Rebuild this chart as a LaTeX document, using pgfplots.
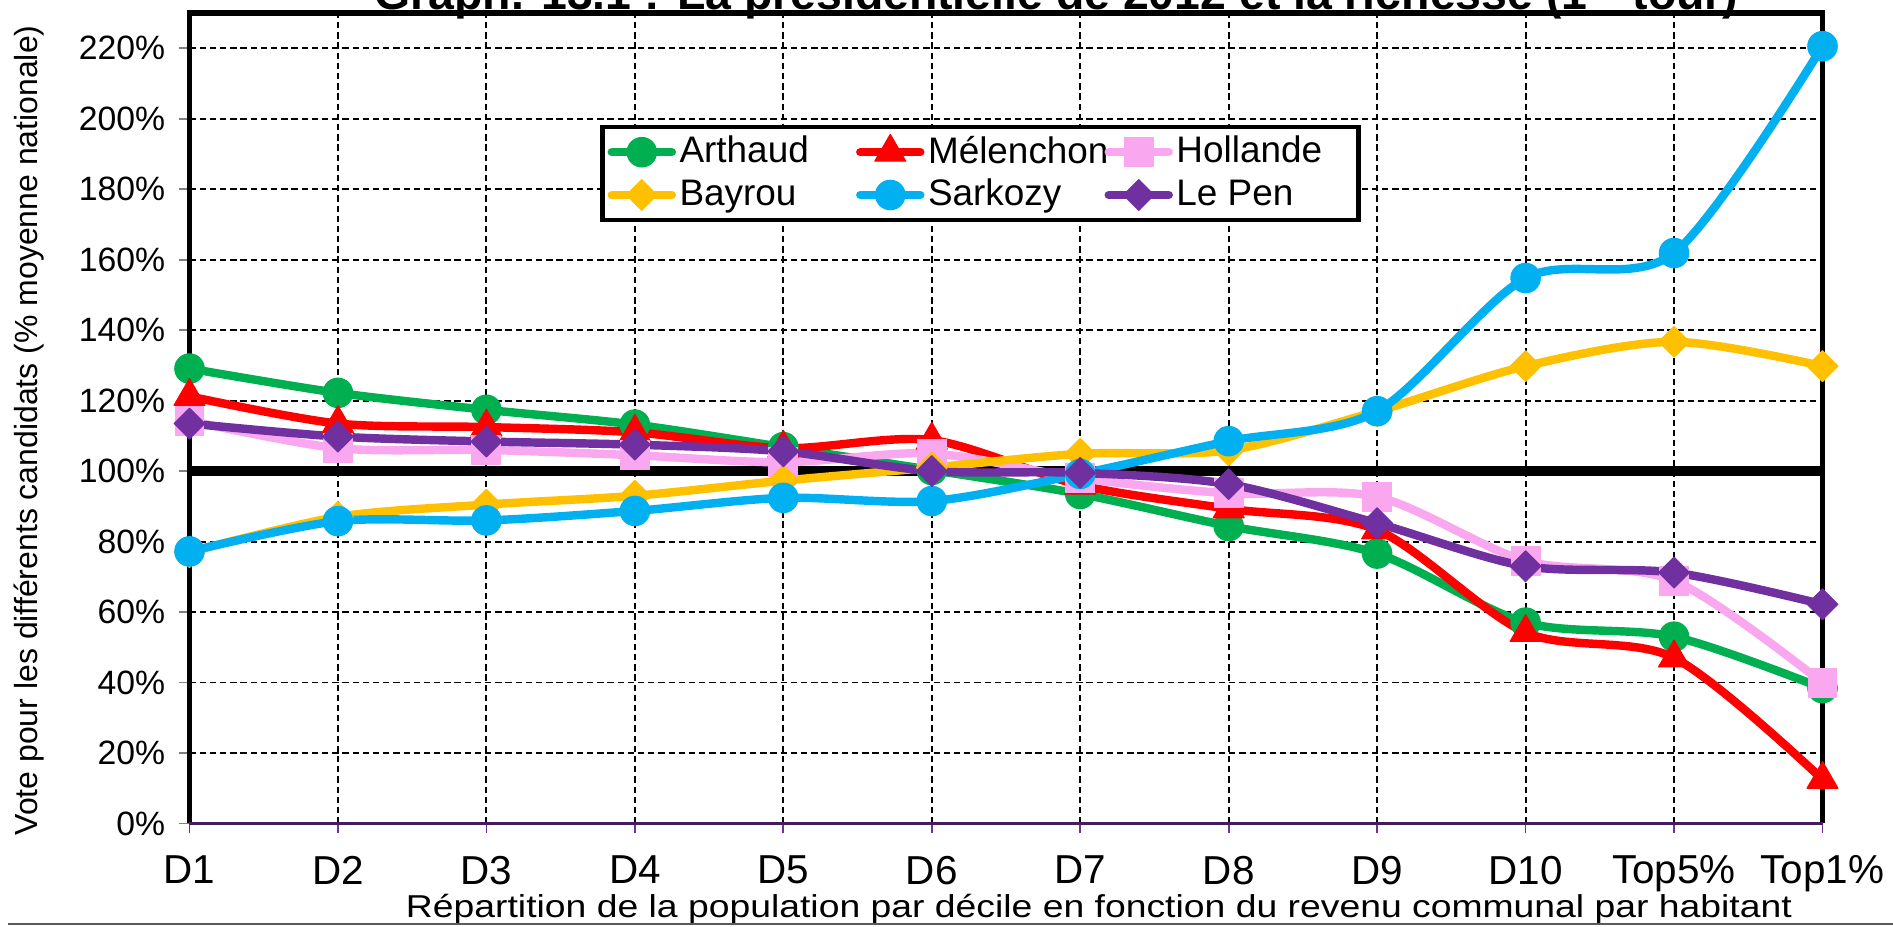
\documentclass[border=0pt]{standalone}
\usepackage{pgfplots}
\usepackage{pgfplotstable}
\pgfplotsset{compat=1.18}
\usepackage{fontspec}
\setmainfont{Liberation Sans}

\definecolor{cArthaud}{HTML}{00B050}
\definecolor{cMelenchon}{HTML}{FF0000}
\definecolor{cHollande}{HTML}{F9A7EE}
\definecolor{cBayrou}{HTML}{FFC000}
\definecolor{cSarkozy}{HTML}{00B0F0}
\definecolor{cLePen}{HTML}{7030A0}

% vote as % of national average, by income decile
\pgfplotstableread{
x  arthaud melenchon hollande bayrou sarkozy lepen
0  129.1   121.2     114.3    77.0   77.2    113.5
1  122.2   113.5     106.5    87.0   85.8    109.8
2  117.4   112.5     106.0    90.5   86.0    108.4
3  113.2   111.0     104.5    93.0   88.7    107.5
4  106.8   106.5     102.5    97.3   92.4    105.6
5  100.3   108.8     105.0    101.0  91.5    100.0
6  93.5    96.0      98.0     104.9  99.2    99.5
7  84.4    89.3      93.7     105.9  108.5   96.3
8  76.6    83.3      92.7     117.0  117.0   85.2
9  57.0    54.2      74.5     129.8  154.8   73.0
10 53.0    47.0      68.9     136.7  161.9   71.2
11 38.4    12.5      39.9     129.8  220.6   62.2
}\votes

\begin{document}
\begin{tikzpicture}
\useasboundingbox (-1.895,-1.026) rectangle (17.035,8.234);

\begin{axis}[
    at={(0,0)}, anchor=south west,
    scale only axis,
    width=16.33cm, height=8.103cm,
    xmin=0, xmax=11, ymin=0, ymax=230,
    xtick={0,...,11},
    xticklabels={D1,D2,D3,D4,D5,D6,D7,D8,D9,D10,Top5\%,Top1\%},
    ytick={0,20,...,220},
    yticklabels={0\%,20\%,40\%,60\%,80\%,100\%,120\%,140\%,160\%,180\%,200\%,220\%},
    tick pos=left, tick align=outside,
    major tick length=0.1cm,
    xtick style={draw=cLePen, line width=0.5pt},
    ytick style={draw=gray, line width=0.5pt},
    xticklabel style={font=\fontsize{11.5}{14}\selectfont, yshift=-0.1cm},
    yticklabel style={font=\fontsize{9.6}{12}\selectfont, xshift=-0.02cm},
    grid=major,
    major grid style={black, line width=0.55pt, dash pattern=on 1.8pt off 1.1pt},
    axis line style={draw=none},
    clip=false,
    legend columns=3,
    legend cell align=left,
    legend style={at={(0.2514,0.862)}, anchor=north west,
        draw=black, line width=1.3pt, inner sep=1.5pt,
        nodes={inner sep=1pt}, row sep=1pt,
        font=\fontsize{10.5}{12.6}\selectfont,
        /tikz/every even column/.append style={column sep=0pt}},
    every axis plot/.append style={smooth, line width=2.4pt, line cap=round, line join=round},
]

% frame and the thick 100% line, under the series
\draw[line width=2.7pt] (axis cs:0,100) -- (axis cs:11,100);
\draw[line width=1.5pt] (rel axis cs:0,0) -- (rel axis cs:0,1) -- (rel axis cs:1,1) -- (rel axis cs:1,0);
\draw[line width=0.9pt, cLePen!60!black] (rel axis cs:0,0) -- (rel axis cs:1,0);

\addplot[cArthaud, mark=*, mark size=4.2pt, mark options={solid, line width=0.3pt}]
    table[x=x, y=arthaud] {\votes};
\addlegendentry{\makebox[1.73cm][l]{Arthaud}}

\addplot[cMelenchon, mark=triangle*, mark size=5.1pt, mark options={solid, line width=0.3pt}]
    table[x=x, y=melenchon] {\votes};
\addlegendentry{\makebox[1.73cm][l]{Mélenchon}}

\addplot[cHollande, mark=square*, mark size=4.1pt, mark options={solid, line width=0.3pt}]
    table[x=x, y=hollande] {\votes};
\addlegendentry{\makebox[1.73cm][l]{Hollande}}

\addplot[cBayrou, mark=square*, mark size=3.1pt, mark options={solid, rotate=45, line width=0.3pt}]
    table[x=x, y=bayrou] {\votes};
\addlegendentry{\makebox[1.73cm][l]{Bayrou}}

\addplot[cSarkozy, mark=*, mark size=4.2pt, mark options={solid, line width=0.3pt}]
    table[x=x, y=sarkozy] {\votes};
\addlegendentry{\makebox[1.73cm][l]{Sarkozy}}

\addplot[cLePen, mark=square*, mark size=3.1pt, mark options={solid, rotate=45, line width=0.3pt}]
    table[x=x, y=lepen] {\votes};
\addlegendentry{\makebox[1.73cm][l]{Le Pen}}

\end{axis}

% title (cut by the top edge, as in the source image)
\node[anchor=base, font=\bfseries\fontsize{13.2}{15}\selectfont] at (8.67,8.134)
    {Graph. 13.1 : La présidentielle de 2012 et la richesse (1\textsuperscript{er} tour)};
\node[rotate=90, font=\fontsize{9.1}{10}\selectfont] at (-1.605,3.93)
    {Vote pour les différents candidats (\% moyenne nationale)};
\node[anchor=base, xscale=1.18, font=\fontsize{9}{10}\selectfont] at (9.095,-0.94)
    {Répartition de la population par décile en fonction du revenu communal par habitant};
\draw[line width=0.6pt, gray!70!black] (-1.81,-1.006) -- (17.035,-1.006);
\end{tikzpicture}
\end{document}
